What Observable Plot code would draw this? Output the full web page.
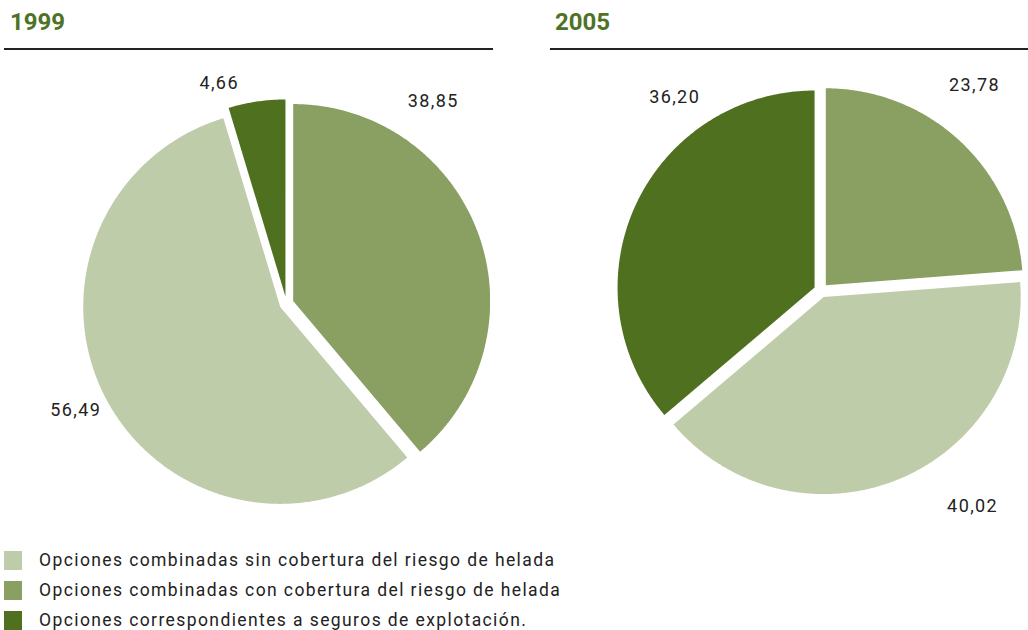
<!DOCTYPE html>
<html>
<head>
<meta charset="utf-8">
<script src="https://cdn.jsdelivr.net/npm/d3@7"></script>
<script src="https://cdn.jsdelivr.net/npm/@observablehq/plot@0.6"></script>
<style>
  html, body { margin: 0; padding: 0; background: #fff; }
  body { width: 1028px; height: 630px; position: relative; overflow: hidden; font-family: Roboto, "Liberation Sans", sans-serif; color: #222; }
  .title { position: absolute; top: 8px; font-size: 24px; font-weight: 700; color: #4e7326; line-height: 28px; }
  .rule { position: absolute; top: 48px; height: 2.4px; background: #222; }
  .pie { position: absolute; top: 60px; }
  .legend-row { position: absolute; left: 0; height: 30px; display: flex; align-items: center; }
  .swatch { width: 18px; height: 19px; margin-left: 4px; margin-right: 17px; }
  .legend-text { font-size: 17.5px; letter-spacing: 1.4px; color: #222; }
</style>
</head>
<body>
<div id="titles"></div>
<div id="left" class="pie" style="left:0px"></div>
<div id="right" class="pie" style="left:540px"></div>
<div id="legend"></div>
<script>
// ---------- data ----------
const categories = [
  "Opciones combinadas sin cobertura del riesgo de helada",
  "Opciones combinadas con cobertura del riesgo de helada",
  "Opciones correspondientes a seguros de explotación."
];
const years = ["1999", "2005"];
const values1999 = [56.49, 38.85, 4.66];
const values2005 = [40.02, 23.78, 36.20];
// order of slices clockwise from 12 o'clock (indices into categories)
const sliceOrder = [1, 0, 2];

// ---------- style / layout ----------
const colors = ["#bfcca9", "#89a062", "#4e701f"];
const radiusPx = 197;
const explode = 0.036;
// label placement: [angle offset from slice bisector (deg), radius in pie units]
const labelPlacement = {
  "1999": [[-34, 1.27], [1.5, 1.2], [-8.6, 1.17]],
  "2005": [[-6, 1.3], [-12.7, 1.34], [28, 1.23]]
};
const pieFrames = {
  "1999": {el: "#left", width: 490, height: 470, cx: 286, cy: 243},
  "2005": {el: "#right", width: 488, height: 470, cx: 280.5, cy: 230}
};
const fmt = v => v.toFixed(2).replace(".", ",");

function buildPie(year, values) {
  const rows = sliceOrder.map(i => ({category: categories[i], value: values[i]}));
  const arcs = d3.pie().sort(null).value(d => d.value)(rows);
  const pts = [];
  const labels = [];
  arcs.forEach((a, k) => {
    const mid = (a.startAngle + a.endAngle) / 2;
    const ox = explode * Math.sin(mid), oy = explode * Math.cos(mid);
    pts.push({category: a.data.category, x: ox, y: oy});
    const n = Math.max(2, Math.ceil((a.endAngle - a.startAngle) / (Math.PI / 360)));
    for (let j = 0; j <= n; j++) {
      const t = a.startAngle + (a.endAngle - a.startAngle) * j / n;
      pts.push({category: a.data.category, x: ox + Math.sin(t), y: oy + Math.cos(t)});
    }
    pts.push({category: a.data.category, x: ox, y: oy});
    const [dAng, r] = labelPlacement[year][k];
    const la = mid + dAng * Math.PI / 180;
    labels.push({x: r * Math.sin(la), y: r * Math.cos(la), text: fmt(a.data.value)});
  });
  const f = pieFrames[year];
  const chart = Plot.plot({
    width: f.width,
    height: f.height,
    margin: 0,
    x: {domain: [-f.cx / radiusPx, (f.width - f.cx) / radiusPx], axis: null},
    y: {domain: [-(f.height - f.cy) / radiusPx, f.cy / radiusPx], axis: null},
    color: {domain: categories, range: colors},
    style: {overflow: "hidden", fontFamily: "Roboto, 'Liberation Sans', sans-serif", letterSpacing: "1.4px", background: "transparent"},
    marks: [
      Plot.line(pts, {x: "x", y: "y", z: "category", fill: "category", stroke: null}),
      Plot.text(labels, {x: "x", y: "y", text: "text", fontSize: 18, fill: "#222"})
    ]
  });
  document.querySelector(f.el).appendChild(chart);
}

buildPie("1999", values1999);
buildPie("2005", values2005);

// titles and rules
const titles = document.getElementById("titles");
[[years[0], 10, 4, 489], [years[1], 555, 550, 478]].forEach(([t, tx, rx, rw]) => {
  const d = document.createElement("div");
  d.className = "title"; d.style.left = tx + "px"; d.textContent = t;
  titles.appendChild(d);
  const r = document.createElement("div");
  r.className = "rule"; r.style.left = rx + "px"; r.style.width = rw + "px";
  titles.appendChild(r);
});

// legend
const legend = document.getElementById("legend");
categories.forEach((c, i) => {
  const row = document.createElement("div");
  row.className = "legend-row";
  row.style.top = (545 + i * 30) + "px";
  const sw = document.createElement("div");
  sw.className = "swatch"; sw.style.background = colors[i];
  const tx = document.createElement("div");
  tx.className = "legend-text"; tx.textContent = c;
  row.appendChild(sw); row.appendChild(tx);
  legend.appendChild(row);
});
</script>
</body>
</html>
